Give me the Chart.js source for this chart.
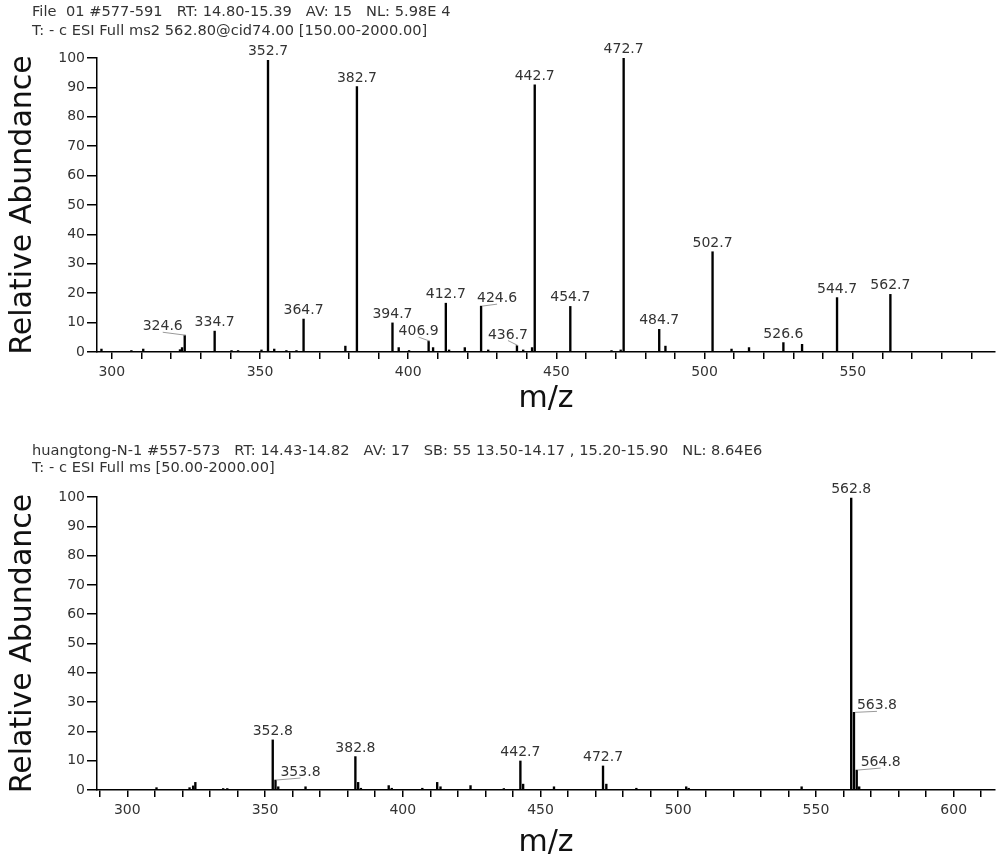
<!DOCTYPE html>
<html><head><meta charset="utf-8">
<script src="https://cdn.jsdelivr.net/npm/chart.js@4.4.0/dist/chart.umd.min.js"></script>
<style>
html,body{margin:0;padding:0;background:#fff;}
#wrap{position:relative;width:1000px;height:855px;overflow:hidden;background:#fff;}
canvas{position:absolute;left:0;}
#c1{top:0;}
#c2{top:427px;}
.hdr{position:absolute;left:32px;font-family:"DejaVu Sans";font-size:14.6px;letter-spacing:0.03px;color:#333;white-space:pre;z-index:2;}
</style></head>
<body><div id="wrap">
<canvas id="c1" width="1000" height="427"></canvas>
<canvas id="c2" width="1000" height="428"></canvas>
<div class="hdr" style="top:2px;line-height:18.5px">File  01 #577-591   RT: 14.80-15.39   AV: 15   NL: 5.98E 4
T: - c ESI Full ms2 562.80@cid74.00 [150.00-2000.00]</div>
<div class="hdr" style="top:442px;line-height:16.5px">huangtong-N-1 #557-573   RT: 14.43-14.82   AV: 17   SB: 55 13.50-14.17 , 15.20-15.90   NL: 8.64E6
T: - c ESI Full ms [50.00-2000.00]</div>
</div>
<script>
// ---------- DATA ----------
const topMz = [296.5, 306.6, 310.6, 323.0, 323.7, 324.6, 334.7, 340.4, 342.6, 350.5, 352.7, 354.8, 358.9, 362.3, 364.7, 378.8, 382.7, 394.7, 396.8, 400.3, 406.9, 408.4, 412.7, 413.8, 419.1, 424.6, 427.0, 436.7, 438.8, 441.8, 442.7, 454.7, 468.6, 471.7, 472.7, 484.7, 486.8, 502.7, 509.1, 515.0, 526.6, 532.9, 544.7, 562.7];
const topAbund = [1.0, 0.5, 1.0, 0.8, 1.5, 5.7, 7.1, 0.5, 0.5, 0.7, 99.2, 1.0, 0.5, 0.5, 11.2, 2.0, 90.3, 9.9, 1.5, 0.5, 3.7, 1.5, 16.6, 0.7, 1.5, 15.6, 0.7, 2.2, 0.7, 1.5, 90.9, 15.5, 0.5, 0.7, 100, 7.7, 2.0, 34.1, 1.0, 1.5, 3.2, 2.6, 18.5, 19.6];
const topLabels = ['324.6','334.7','352.7','364.7','382.7','394.7','406.9','412.7','424.6','436.7','442.7','454.7','472.7','484.7','502.7','526.6','544.7','562.7'];

const botMz = [310.6, 322.6, 323.9, 324.7, 334.8, 336.3, 352.8, 353.8, 354.8, 364.7, 382.8, 383.8, 384.8, 394.9, 396.0, 407.1, 412.5, 413.7, 424.6, 436.7, 442.7, 443.7, 454.9, 472.7, 473.9, 484.8, 502.9, 503.8, 544.8, 562.8, 563.8, 564.8, 565.7];
const botAbund = [0.8, 0.8, 1.4, 2.6, 0.5, 0.5, 17.1, 3.4, 1.1, 1.1, 11.4, 2.6, 0.6, 1.5, 0.6, 0.6, 2.6, 1.1, 1.5, 0.5, 9.9, 2.0, 1.1, 8.2, 2.0, 0.6, 1.1, 0.6, 1.1, 99.6, 26.5, 6.8, 1.1];
const botLabels = ['352.8','353.8','382.8','442.7','472.7','562.8','563.8','564.8'];

const yTicks = [0,10,20,30,40,50,60,70,80,90,100];

// ---------- STYLE (label placement) ----------
const topLabelStyle = {
  '324.6': {dx:-22, dy:0, leader:true},
  '406.9': {dx:-10, dy:-1, leader:true},
  '424.6': {dx:16, dy:1, leader:true},
  '436.7': {dx:-9, dy:-2, leader:true}
};
const botLabelStyle = {
  '353.8': {dx:25, dy:1, leader:true},
  '563.8': {dx:23, dy:2, leader:true},
  '564.8': {dx:24, dy:1, leader:true}
};

function labelPlugin(mz, ab, labels, style) {
  return {
    id: 'peakLabels',
    afterDatasetsDraw(chart) {
      const {ctx, scales:{x, y}} = chart;
      ctx.save();
      ctx.font = '14px "DejaVu Sans"';
      ctx.textAlign = 'center';
      ctx.textBaseline = 'alphabetic';
      labels.forEach(lbl => {
        const v = parseFloat(lbl);
        const i = mz.findIndex(m => Math.abs(m - v) < 1e-6);
        if (i < 0) return;
        const px = x.getPixelForValue(mz[i]);
        const py = y.getPixelForValue(ab[i]);
        const o = style[lbl] || {dx:0, dy:0};
        const lx = px + o.dx, ly = py - 5 + o.dy;
        if (o.leader) {
          ctx.strokeStyle = '#9a9a9a';
          ctx.lineWidth = 1;
          ctx.beginPath();
          ctx.moveTo(px + 1, py);
          ctx.lineTo(lx, ly + 2);
          ctx.stroke();
        }
        ctx.fillStyle = '#333';
        ctx.fillText(lbl, lx, ly);
      });
      ctx.restore();
    }
  };
}

function tensBetween(lo, hi) {
  const out = [];
  for (let v = Math.ceil(lo / 10) * 10; v <= hi; v += 10) out.push({value: v});
  return out;
}

function makeChart(id, mz, ab, labels, style, xmin, xmax, padTop, xHeight, titlePadBottom) {
  return new Chart(document.getElementById(id), {
    type: 'bar',
    data: { datasets: [{
      data: mz.map((m, i) => ({x: m, y: ab[i]})),
      backgroundColor: '#000', borderWidth: 0, barThickness: 1.7, grouped: false
    }]},
    options: {
      responsive: false, animation: false, devicePixelRatio: 1,
      layout: {padding: {left: 0, right: 5, top: padTop, bottom: 0}},
      plugins: {legend: {display: false}, tooltip: {enabled: false}},
      scales: {
        x: {
          type: 'linear', min: xmin, max: xmax, offset: false,
          afterBuildTicks: s => { s.ticks = tensBetween(s.min, s.max); },
          afterFit: s => { s.height = xHeight; },
          ticks: {autoSkip: false, maxRotation: 0, padding: 5, color: '#333',
                  font: {family: 'DejaVu Sans', size: 14},
                  callback: v => (v % 50 === 0 ? String(v) : '')},
          grid: {display: true, drawOnChartArea: false, drawTicks: true, tickLength: 7, color: '#000', lineWidth: 1.5, offset: false},
          border: {display: true, color: '#000', width: 1.5},
          title: {display: true, text: 'm/z', color: '#111',
                  font: {family: 'DejaVu Sans', size: 30, lineHeight: 1},
                  padding: {top: 0, bottom: titlePadBottom}}
        },
        y: {
          min: 0, max: 100,
          afterBuildTicks: s => { s.ticks = yTicks.map(v => ({value: v})); },
          afterFit: s => { s.width = 97; },
          ticks: {padding: 2, color: '#333', font: {family: 'DejaVu Sans', size: 14}},
          grid: {display: true, drawOnChartArea: false, drawTicks: true, tickLength: 10, color: '#000', lineWidth: 1.5},
          border: {display: true, color: '#000', width: 1.5},
          title: {display: true, text: 'Relative Abundance', color: '#111',
                  font: {family: 'DejaVu Sans', size: 30, lineHeight: 1},
                  padding: {top: 8, bottom: 0}}
        }
      }
    },
    plugins: [labelPlugin(mz, ab, labels, style)]
  });
}

makeChart('c1', topMz, topAbund, topLabels, topLabelStyle, 295, 598, 58, 75, 13);
makeChart('c2', botMz, botAbund, botLabels, botLabelStyle, 289, 615, 70, 65, -3);
</script>
</body></html>
